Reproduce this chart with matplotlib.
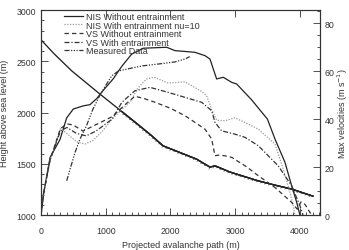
import numpy as np
import matplotlib
matplotlib.use("Agg")
import matplotlib.pyplot as plt
from matplotlib import patheffects
from matplotlib.ticker import MultipleLocator

# terrain profile (left axis)
terrain_x = [0, 200, 474, 700, 912, 1221, 1453, 1700, 1886, 2150, 2406, 2612,
             2690, 2921, 3150, 3354, 3600, 3875, 4204]
terrain_h = [2710, 2575, 2407, 2290, 2180, 2024, 1907, 1780, 1676, 1610, 1546,
             1468, 1481, 1420, 1375, 1335, 1295, 1254, 1185]

# max velocities (right axis)
nis_x = [0, 40, 140, 294, 397, 500, 654, 757, 860, 963, 1115, 1250, 1400, 1580,
         1943, 2070, 2380, 2535, 2612, 2715, 2818, 2947, 3025, 3256, 3500, 3617,
         3771, 3875, 3952, 4003]
nis_v = [0, 9, 24, 31.5, 40.5, 44.2, 45.5, 46, 48.5, 52, 56.7, 62, 67, 69.5,
         69.9, 68.5, 67.8, 66.4, 65, 56.7, 57.4, 55.3, 54.6, 48, 40, 31.7,
         22, 12.2, 5.4, 0]

nis_ent_x = [0, 40, 140, 300, 400, 550, 680, 800, 950, 1100, 1250, 1376, 1500,
             1634, 1750, 1967, 2225, 2483, 2560, 2638, 2715, 2844, 2998, 3153,
             3359, 3617, 3745, 3849, 3900, 3926]
nis_ent_v = [0, 9, 23, 36, 34, 30.5, 29.6, 31, 35, 40, 44, 47, 53, 56.7, 57.4,
             55, 55.5, 51.5, 49.7, 44, 39.5, 39.3, 40.5, 38.6, 35.8, 29.6, 19.2,
             9.4, 3.9, 0]

vs_x = [0, 40, 140, 300, 400, 500, 650, 800, 950, 1100, 1300, 1452, 1600, 1762,
        2000, 2226, 2535, 2638, 2690, 2740, 2844, 2952, 3184, 3359, 3617, 3875,
        3960, 4020, 4080, 4160, 4190]
vs_v = [0, 9, 23, 36, 38, 37.5, 35, 37, 39, 41, 46, 49.5, 48.5, 47, 44.5, 41.4,
        35.8, 31.7, 24.7, 25, 24.7, 24, 20, 16.4, 11.5, 5.3, 2.5, 5.5, 4.5, 1, 0]

vs_ent_x = [0, 40, 140, 300, 400, 550, 700, 850, 1000, 1100, 1250, 1452, 1685,
            1967, 2483, 2638, 2690, 2792, 2998, 3153, 3359, 3668, 3875, 4003, 4050]
vs_ent_v = [0, 9, 23, 35, 36.5, 34, 33, 35, 38, 40, 47, 51.8, 53.2, 51.1, 47,
            43.5, 38.6, 35.1, 33.7, 32.4, 28.9, 20.5, 12.2, 3.9, 0]

meas_x = [397, 525, 603, 700, 800, 912, 1000, 1093, 1195, 1324, 1452, 1581,
          1839, 2071, 2226, 2300]
meas_v = [14.3, 26, 31.7, 37, 44, 50, 54, 58, 60, 60.8, 61.5, 62.2, 63, 63.8,
          65, 66]

plt.rcParams["font.family"] = ["Liberation Sans", "DejaVu Sans"]
txt = "#333333"

fig = plt.figure(figsize=(3.49, 2.51), dpi=100)
ax = fig.add_axes([0.1175, 0.139, 0.8007, 0.817])
ax2 = ax.twinx()

# terrain, hatched on the lower part
tx = np.array(terrain_x)
th = np.array(terrain_h)
ax.plot(tx, th, color="#222222", lw=0.95)
sel = tx >= 1221
ax.plot(tx[sel], th[sel], color="#222222", lw=0.95,
        path_effects=[patheffects.withTickedStroke(spacing=3.0, angle=-135,
                                                   length=0.55, linewidth=0.45,
                                                   foreground="#444444"),
                      patheffects.Normal()])

ax2.plot(nis_x, nis_v, color="#222222", lw=0.9, ls="-",
         label="NIS Without entrainment")
ax2.plot(nis_ent_x, nis_ent_v, color="#999999", lw=0.9, ls=(0, (1, 1.2)),
         label="NIS With entrainment nu=10")
ax2.plot(vs_x, vs_v, color="#333333", lw=0.9, ls=(0, (3.5, 2.5)),
         label="VS Without entrainment")
ax2.plot(vs_ent_x, vs_ent_v, color="#333333", lw=0.9, ls=(0, (4, 1.5, 1, 1.5)),
         label="VS With entrainment")
ax2.plot(meas_x, meas_v, color="#333333", lw=0.9,
         ls=(0, (4, 1.2, 1, 1.2, 1, 1.2, 1, 1.2)), label="Measured Data")

ax.set_xlim(0, 4320)
ax.set_ylim(1000, 3000)
ax2.set_ylim(0, 85.4)

ax.xaxis.set_major_locator(MultipleLocator(1000))
ax.xaxis.set_minor_locator(MultipleLocator(100))
ax.yaxis.set_major_locator(MultipleLocator(500))
ax.yaxis.set_minor_locator(MultipleLocator(100))
ax2.yaxis.set_major_locator(MultipleLocator(20))
ax2.yaxis.set_minor_locator(MultipleLocator(5))

for a in (ax, ax2):
    a.tick_params(which="both", direction="in", labelsize=6.3, colors=txt,
                  width=0.6)
    a.tick_params(which="major", length=5)
    a.tick_params(which="minor", length=2.5)
    for s in a.spines.values():
        s.set_linewidth(0.8)
        s.set_color(txt)
ax.tick_params(axis="x", top=True, pad=8)
ax.tick_params(axis="y", right=False, pad=3.5)
ax2.tick_params(axis="y", pad=3)

ax.set_xlabel("Projected avalanche path (m)", fontsize=6.5, color=txt,
              va="center")
ax.xaxis.set_label_coords(0.5, -0.1415)
ax.set_ylabel("Height above sea level (m)", fontsize=6.5, color=txt,
              va="center")
ax.yaxis.set_label_coords(-0.129, 0.5)
ax2.set_ylabel("Max velocities (m s$^{-1}$)", fontsize=6.5, color=txt,
               va="center", rotation=90)
ax2.yaxis.set_label_coords(1.08, 0.5)

leg = ax2.legend(loc="upper left", bbox_to_anchor=(0.082, 0.99), frameon=False,
                 fontsize=6.5, handlelength=2.1, handletextpad=0.35,
                 labelspacing=-0.05, borderaxespad=0, borderpad=0)
for t in leg.get_texts():
    t.set_color(txt)

fig.savefig("out.png", dpi=100)
